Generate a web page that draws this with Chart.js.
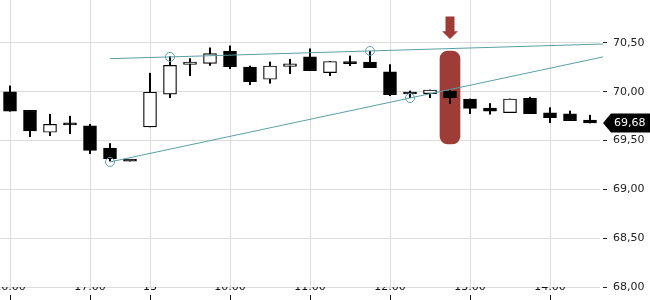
<!DOCTYPE html>
<html>
<head>
<meta charset="utf-8">
<script src="https://cdn.jsdelivr.net/npm/chart.js@4.4.1/dist/chart.umd.min.js"></script>
<style>
  html, body { margin: 0; padding: 0; background: #fff; overflow: hidden; }
  #wrap { position: relative; width: 650px; height: 300px; overflow: hidden; }
  #box { position: absolute; left: -20px; top: 0; width: 670px; height: 300px; }
</style>
</head>
<body>
<div id="wrap"><div id="box"><canvas id="chart"></canvas></div></div>
<script>
// 15 minute candles
const times = ['16:00','16:15','16:30','16:45','17:00','17:15','17:30','09:00','09:15','09:30',
  '09:45','10:00','10:15','10:30','10:45','11:00','11:15','11:30','11:45','12:00',
  '12:15','12:30','12:45','13:00','13:15','13:30','13:45','14:00','14:15','14:30'];
const tickLabels = ['16:00','','','','17:00','','','13','','','','10:00','','','','11:00',
  '','','','12:00','','','','13:00','','','','14:00','',''];

const open  = [70.00, 69.81, 69.585, 69.66, 69.65, 69.424, 69.29, 69.64, 69.975, 70.28,
  70.29, 70.418, 70.254, 70.128, 70.26, 70.357, 70.196, 70.305, 70.305, 70.203,
  69.977, 69.98, 70.008, 69.926, 69.834, 69.786, 69.933, 69.783, 69.773, 69.71];
const high  = [70.06, 69.81, 69.77, 69.75, 69.667, 69.47, 69.29, 70.19, 70.36, 70.34,
  70.45, 70.47, 70.264, 70.305, 70.333, 70.44, 70.31, 70.367, 70.415, 70.278,
  70.008, 70.018, 70.026, 69.926, 69.88, 69.926, 69.944, 69.837, 69.803, 69.76];
const low   = [69.80, 69.54, 69.55, 69.57, 69.366, 69.29, 69.29, 69.64, 69.94, 70.165,
  70.27, 70.236, 70.073, 70.087, 70.186, 70.216, 70.165, 70.267, 70.247, 69.96,
  69.94, 69.94, 69.88, 69.776, 69.77, 69.786, 69.776, 69.683, 69.704, 69.68];
const close = [69.80, 69.60, 69.667, 69.66, 69.40, 69.315, 69.29, 69.995, 70.27, 70.305,
  70.39, 70.257, 70.104, 70.264, 70.285, 70.216, 70.31, 70.288, 70.247, 69.97,
  69.977, 70.018, 69.94, 69.83, 69.80, 69.926, 69.776, 69.735, 69.704, 69.68];

// trend lines (x = candle index)
const trendUpperX = [5, 8, 18, 29.65];
const trendUpperY = [70.339, 70.357, 70.418, 70.489];
const trendLowerX = [5, 20, 29.65];
const trendLowerY = [69.281, 69.936, 70.357];
const upperMarks = [0, 4.5, 4.5, 0];
const lowerMarks = [4.5, 4.5, 0];

// highlighted candle + arrow
const markIndex = 22;
const markRange = [69.465, 70.418];
const arrowVals = [70.77, 70.62, 70.54]; // top, neck, tip

const yTicks = [68.0, 68.5, 69.0, 69.5, 70.0, 70.5];

const teal = '#5b9fa6';
const red = '#9e3d38';
const fmt = v => v.toFixed(2).replace('.', ',');

const markData = times.map((t, i) => i === markIndex ? markRange : null);

const extras = {
  id: 'extras',
  afterDraw(chart) {
    const ctx = chart.ctx, xs = chart.scales.x, ys = chart.scales.y, area = chart.chartArea;
    // arrow
    const ax = xs.getPixelForValue(markIndex);
    const yTop = ys.getPixelForValue(arrowVals[0]);
    const yNeck = ys.getPixelForValue(arrowVals[1]);
    const yTip = ys.getPixelForValue(arrowVals[2]);
    ctx.save();
    ctx.fillStyle = red;
    ctx.beginPath();
    ctx.moveTo(ax - 4.5, yTop);
    ctx.lineTo(ax + 4.5, yTop);
    ctx.lineTo(ax + 4.5, yNeck);
    ctx.lineTo(ax + 8, yNeck);
    ctx.lineTo(ax, yTip);
    ctx.lineTo(ax - 8, yNeck);
    ctx.lineTo(ax - 4.5, yNeck);
    ctx.closePath();
    ctx.fill();
    // last price tag
    const last = close[close.length - 1];
    const py = ys.getPixelForValue(last);
    const x0 = area.right + 3, x1 = area.right + 11, x2 = chart.width;
    ctx.fillStyle = '#000';
    ctx.beginPath();
    ctx.moveTo(x0, py);
    ctx.lineTo(x1, py - 9.5);
    ctx.lineTo(x2, py - 9.5);
    ctx.lineTo(x2, py + 9.5);
    ctx.lineTo(x1, py + 9.5);
    ctx.closePath();
    ctx.fill();
    ctx.fillStyle = '#fff';
    ctx.font = '11px "DejaVu Sans"';
    ctx.textBaseline = 'middle';
    ctx.textAlign = 'left';
    ctx.fillText(fmt(last), area.right + 14, py + 0.5);
    ctx.restore();
  }
};

new Chart(document.getElementById('chart'), {
  type: 'bar',
  data: {
    labels: times,
    datasets: [
      {
        type: 'line',
        xAxisID: 'xl',
        data: trendUpperX.map((x, i) => ({ x: x, y: trendUpperY[i] })),
        borderColor: teal,
        borderWidth: 1,
        pointRadius: upperMarks,
        pointBorderColor: teal,
        pointBackgroundColor: 'rgba(0,0,0,0)',
        pointBorderWidth: 1,
        fill: false,
        clip: false,
        order: 1
      },
      {
        type: 'line',
        xAxisID: 'xl',
        data: trendLowerX.map((x, i) => ({ x: x, y: trendLowerY[i] })),
        borderColor: teal,
        borderWidth: 1,
        pointRadius: lowerMarks,
        pointBorderColor: teal,
        pointBackgroundColor: 'rgba(0,0,0,0)',
        pointBorderWidth: 1,
        fill: false,
        clip: false,
        order: 1
      },
      {
        data: open.map((o, i) => [o, close[i]]),
        backgroundColor: open.map((o, i) => close[i] > o ? '#fff' : '#000'),
        borderColor: '#000',
        borderWidth: 1.2,
        borderSkipped: false,
        barThickness: 13,
        minBarLength: 2,
        grouped: false,
        order: 2
      },
      {
        data: low.map((l, i) => [l, high[i]]),
        backgroundColor: '#000',
        borderWidth: 0,
        barThickness: 1.4,
        grouped: false,
        order: 3
      },
      {
        data: markData,
        backgroundColor: red,
        borderWidth: 0,
        borderRadius: 8,
        borderSkipped: false,
        barThickness: 20,
        grouped: false,
        order: 4
      }
    ]
  },
  options: {
    responsive: true,
    maintainAspectRatio: false,
    animation: false,
    events: [],
    layout: { autoPadding: false, padding: { left: 20, right: 0, top: 0, bottom: 0 } },
    plugins: { legend: { display: false }, tooltip: { enabled: false } },
    scales: {
      x: {
        type: 'category',
        offset: true,
        border: { display: false },
        grid: {
          offset: false,
          color: c => tickLabels[c.index] ? '#dcdcdc' : 'rgba(0,0,0,0)',
          tickColor: c => tickLabels[c.index] ? '#111' : 'rgba(0,0,0,0)',
          tickLength: 13,
          tickBorderDash: [0, 8, 5]
        },
        ticks: {
          autoSkip: false,
          maxRotation: 0,
          padding: -19,
          color: '#111',
          font: { family: 'DejaVu Sans', size: 11 },
          callback: (v, i) => tickLabels[i]
        },
        afterFit: s => { s.height = 13; s.paddingLeft = 0; s.paddingRight = 0; }
      },
      xl: {
        type: 'linear',
        display: false,
        offset: false,
        grid: { offset: false },
        min: -0.5,
        max: 29.5
      },
      y: {
        type: 'linear',
        position: 'right',
        min: 68,
        max: 70.94,
        border: { display: false },
        grid: {
          color: '#dcdcdc',
          tickColor: '#222',
          tickLength: 7,
          tickBorderDash: [0, 3, 4]
        },
        ticks: {
          padding: 6,
          color: '#222',
          font: { family: 'DejaVu Sans', size: 11 },
          callback: v => fmt(v)
        },
        afterBuildTicks: s => { s.ticks = yTicks.map(v => ({ value: v })); },
        afterFit: s => { s.width = 50; s.paddingTop = 0; s.paddingBottom = 0; }
      }
    }
  },
  plugins: [extras]
});
</script>
</body>
</html>
